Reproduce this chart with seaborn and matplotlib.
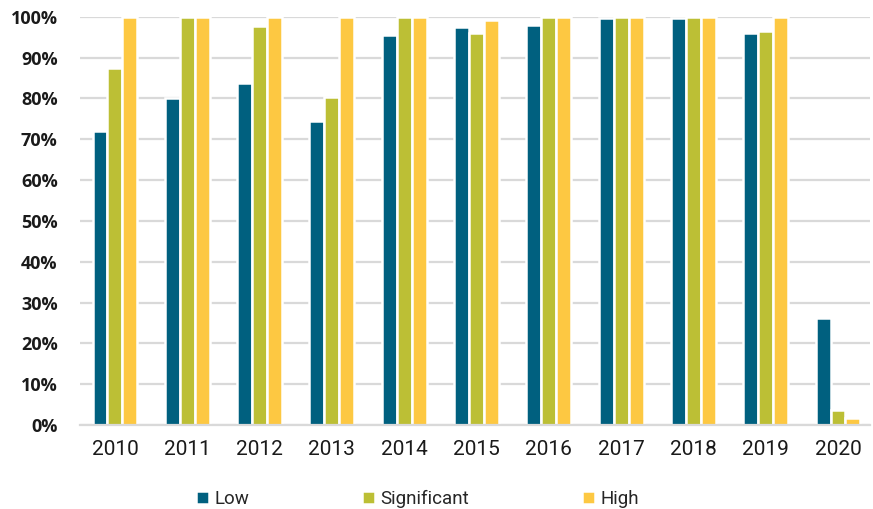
# Pacotes -----------------------------------------------------------------

import pandas as pd
import seaborn as sns
import matplotlib.pyplot as plt
from matplotlib.ticker import PercentFormatter

# Dados -------------------------------------------------------------------

anos = ['2010', '2011', '2012', '2013', '2014', '2015',
        '2016', '2017', '2018', '2019', '2020']
low = [72.0, 80.0, 83.8, 74.4, 95.5, 97.5, 98.1, 99.8, 99.8, 96.0, 26.1]
significant = [87.4, 100, 97.8, 80.4, 100, 96.0, 100, 100, 100, 96.6, 3.8]
high = [100, 100, 100, 100, 100, 99.2, 100, 100, 100, 100, 1.6]
series = ['Low', 'Significant', 'High']
cores = ['#00607f', '#bcbf35', '#fdc842']

df = pd.DataFrame({'ano': anos, 'Low': low, 'Significant': significant, 'High': high})
df = df.melt(id_vars='ano', var_name='serie', value_name='valor')

# Gráfico -----------------------------------------------------------------

sns.set_style('white')
plt.rcParams['font.family'] = ['Roboto', 'DejaVu Sans']

fig, ax = plt.subplots(figsize=(8.73, 5.09), dpi=100)
fig.subplots_adjust(left=0.0916, right=0.9966, top=0.967, bottom=0.165)

sns.barplot(data=df, x='ano', y='valor', hue='serie', hue_order=series,
            palette=cores, width=0.62, edgecolor='white', linewidth=1.8,
            saturation=1, ax=ax)

ax.set_ylim(0, 100)
ax.set_yticks(range(0, 101, 10))
ax.yaxis.set_major_formatter(PercentFormatter(decimals=0))
ax.grid(axis='y', color='#d9d9d9', linewidth=1.6)
ax.set_axisbelow(True)
ax.set_xlabel('')
ax.set_ylabel('')
ax.set_xlim(-0.484, 10.443)

for s in ['top', 'right', 'left']:
    ax.spines[s].set_visible(False)
ax.spines['bottom'].set_color('#d9d9d9')
ax.spines['bottom'].set_linewidth(1.6)

ax.tick_params(axis='both', length=0)
ax.tick_params(axis='x', labelsize=15, pad=11, labelcolor='#1a1a1a')
for lbl in ax.get_yticklabels():
    lbl.set_family(['Open Sans', 'DejaVu Sans'])
    lbl.set_fontweight('bold')
    lbl.set_fontsize(13)
    lbl.set_color('#1a1a1a')
ax.tick_params(axis='y', pad=16)

ax.get_legend().remove()
handles, labels = ax.get_legend_handles_labels()
fig.legend(handles, labels, loc='center', bbox_to_anchor=(0.478, 0.02), ncol=3,
           frameon=False, fontsize=13.5, handlelength=0.7, handleheight=0.7,
           handletextpad=0.3, columnspacing=6.0)

plt.savefig('out.png', dpi=100)
